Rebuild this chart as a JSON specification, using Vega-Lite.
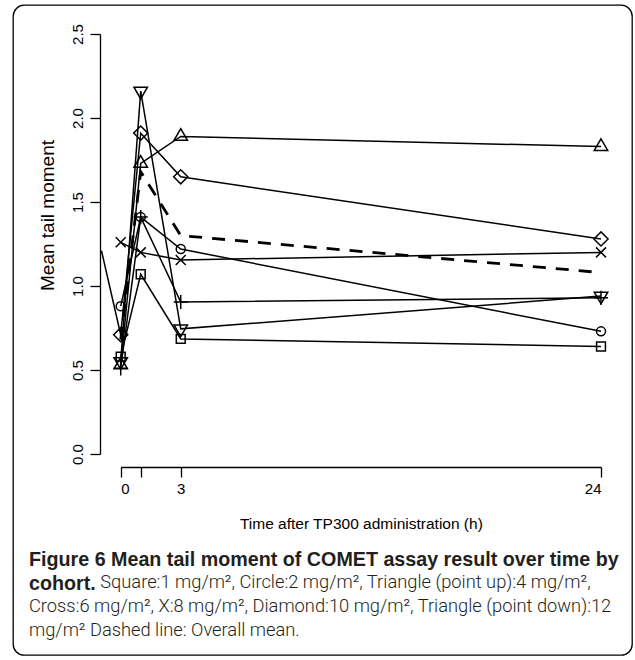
{
  "$schema": "https://vega.github.io/schema/vega-lite/v6.json",
  "width": 619,
  "height": 650,
  "autosize": {"type": "none"},
  "padding": {"left": 13, "top": 5, "right": 3, "bottom": 5},
  "background": "white",
  "datasets": {
    "cohorts": [
      {"dose": "1 mg/m²", "time": 0, "value": 0.58},
      {"dose": "1 mg/m²", "time": 1, "value": 1.07},
      {"dose": "1 mg/m²", "time": 3, "value": 0.685},
      {"dose": "1 mg/m²", "time": 24, "value": 0.64},
      {"dose": "2 mg/m²", "time": 0, "value": 0.88},
      {"dose": "2 mg/m²", "time": 1, "value": 1.41},
      {"dose": "2 mg/m²", "time": 3, "value": 1.22},
      {"dose": "2 mg/m²", "time": 24, "value": 0.73},
      {"dose": "4 mg/m²", "time": 0, "value": 0.53},
      {"dose": "4 mg/m²", "time": 1, "value": 1.73},
      {"dose": "4 mg/m²", "time": 3, "value": 1.89},
      {"dose": "4 mg/m²", "time": 24, "value": 1.83},
      {"dose": "6 mg/m²", "time": 0, "value": 0.51},
      {"dose": "6 mg/m²", "time": 1, "value": 1.41},
      {"dose": "6 mg/m²", "time": 3, "value": 0.905},
      {"dose": "6 mg/m²", "time": 24, "value": 0.93},
      {"dose": "8 mg/m²", "time": 0, "value": 1.26},
      {"dose": "8 mg/m²", "time": 1, "value": 1.2},
      {"dose": "8 mg/m²", "time": 3, "value": 1.155},
      {"dose": "8 mg/m²", "time": 24, "value": 1.2},
      {"dose": "10 mg/m²", "time": -0.96, "value": 1.21},
      {"dose": "10 mg/m²", "time": 0, "value": 0.71},
      {"dose": "10 mg/m²", "time": 1, "value": 1.91},
      {"dose": "10 mg/m²", "time": 3, "value": 1.65},
      {"dose": "10 mg/m²", "time": 24, "value": 1.28},
      {"dose": "12 mg/m²", "time": 0, "value": 0.55},
      {"dose": "12 mg/m²", "time": 1, "value": 2.16},
      {"dose": "12 mg/m²", "time": 3, "value": 0.745},
      {"dose": "12 mg/m²", "time": 24, "value": 0.94}
    ],
    "mean": [
      {"time": 0, "value": 0.68},
      {"time": 1, "value": 1.68},
      {"time": 3, "value": 1.3},
      {"time": 24, "value": 1.08}
    ]
  },
  "title": {
    "text": ["Figure 6 Mean tail moment of COMET assay result over time by", "cohort."],
    "subtitle": [
      "\u200b\u00a0\u00a0\u00a0\u00a0\u00a0\u00a0\u00a0\u00a0\u00a0\u00a0\u00a0\u00a0\u00a0\u00a0\u00a0\u00a0Square:1 mg/m², Circle:2 mg/m², Triangle (point up):4 mg/m²,",
      "Cross:6 mg/m², X:8 mg/m², Diamond:10 mg/m², Triangle (point down):12",
      "mg/m² Dashed line: Overall mean."
    ],
    "orient": "bottom",
    "anchor": "start",
    "frame": "group",
    "offset": -105,
    "dx": 16,
    "baseline": "top",
    "font": "Liberation Sans",
    "fontSize": 19.7,
    "fontWeight": "bold",
    "color": "#231f20",
    "lineHeight": 24.4,
    "subtitleFont": "Roboto",
    "subtitleFontSize": 18.3,
    "subtitleFontWeight": 300,
    "subtitleColor": "#231f20",
    "subtitleLineHeight": 24.4,
    "subtitlePadding": -20.5
  },
  "encoding": {
    "x": {
      "field": "time",
      "type": "quantitative",
      "scale": {"domain": [0, 24], "range": [107.7, 588], "nice": false, "zero": false},
      "axis": {
        "values": [0, 1, 3, 24],
        "labelExpr": "datum.value == 1 ? '' : datum.label",
        "offset": -188,
        "grid": false,
        "tickSize": 10,
        "labelPadding": 4,
        "title": "Time after TP300 administration (h)",
        "titleFontSize": 15.5,
        "titlePadding": 20
      }
    },
    "y": {
      "field": "value",
      "type": "quantitative",
      "scale": {"domain": [0, 2.5], "range": [449, 29], "nice": false, "zero": false},
      "axis": {
        "values": [0, 0.5, 1, 1.5, 2, 2.5],
        "format": ".1f",
        "offset": -87,
        "grid": false,
        "tickSize": 10,
        "labelAngle": -90,
        "labelAlign": "center",
        "labelBaseline": "bottom",
        "labelPadding": 5,
        "title": "Mean tail moment",
        "titleFontSize": 19,
        "titleAngle": 270,
        "titleAlign": "center",
        "titleBaseline": "middle",
        "titleX": -53,
        "titleY": 210
      }
    }
  },
  "layer": [
    {
      "data": {"name": "cohorts"},
      "mark": {"type": "line", "stroke": "black", "strokeWidth": 1.5},
      "encoding": {"detail": {"field": "dose", "type": "nominal"}}
    },
    {
      "data": {"name": "mean"},
      "mark": {"type": "line", "stroke": "black", "strokeWidth": 2.8, "strokeDash": [13, 10]},
      "encoding": {}
    },
    {
      "data": {"name": "cohorts"},
      "transform": [{"filter": "datum.time >= 0"}],
      "mark": {"type": "point", "filled": false, "stroke": "black", "strokeWidth": 1.5, "size": 100, "opacity": 1},
      "encoding": {
        "shape": {
          "field": "dose",
          "type": "nominal",
          "scale": {
            "domain": ["1 mg/m²", "2 mg/m²", "4 mg/m²", "6 mg/m²", "8 mg/m²", "10 mg/m²", "12 mg/m²"],
            "range": [
              "M-0.886,-0.886H0.886V0.886H-0.886Z",
              "M-0.9,0A0.9,0.9 0 1,0 0.9,0A0.9,0.9 0 1,0 -0.9,0Z",
              "M0,-1.555L1.347,0.778L-1.347,0.778Z",
              "M-1.414,0H1.414M0,-1.414V1.414",
              "M-1,-1L1,1M-1,1L1,-1",
              "M-1.414,0L0,-1.414L1.414,0L0,1.414Z",
              "M0,1.555L1.347,-0.778L-1.347,-0.778Z"
            ]
          },
          "legend": null
        }
      }
    }
  ],
  "config": {
    "view": {"stroke": "black", "strokeWidth": 1.3, "cornerRadius": 11},
    "axis": {
      "domainColor": "black",
      "domainWidth": 1.3,
      "tickColor": "black",
      "tickWidth": 1.3,
      "labelColor": "black",
      "labelFont": "Liberation Sans",
      "labelFontSize": 15,
      "titleColor": "black",
      "titleFont": "Liberation Sans",
      "titleFontSize": 15,
      "titleFontWeight": "normal"
    }
  }
}
